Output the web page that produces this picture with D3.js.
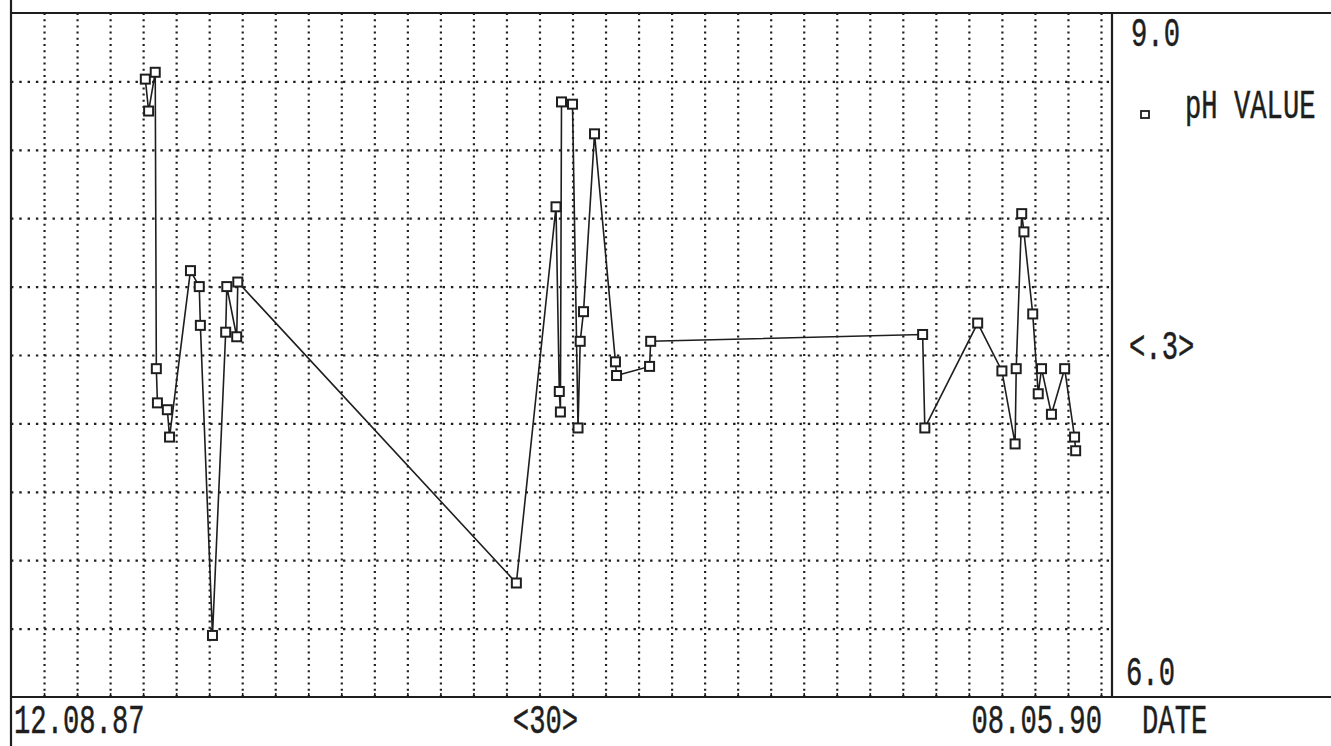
<!DOCTYPE html>
<html>
<head>
<meta charset="utf-8">
<script src="https://cdn.jsdelivr.net/npm/d3@7"></script>
<style>
  html, body { margin: 0; padding: 0; background: #fff; overflow: hidden; }
  svg { display: block; }
  .lbl { font-family: "Liberation Mono", "DejaVu Sans Mono", monospace; fill: #1e1e1e; stroke: #1e1e1e; stroke-width: 0.5px; }
</style>
</head>
<body>
<svg id="chart" width="1331" height="746"></svg>
<script>
// pH readings by sampling date
const sampleDates = [
  "1987-12-12", "1987-12-15", "1987-12-21", "1987-12-22", "1987-12-23",
  "1988-01-01", "1988-01-03", "1988-01-22", "1988-01-30", "1988-01-31",
  "1988-02-11", "1988-02-23", "1988-02-24", "1988-03-04", "1988-03-05",
  "1988-11-13", "1988-12-19", "1988-12-22", "1988-12-23", "1988-12-24",
  "1989-01-03", "1989-01-08", "1989-01-10", "1989-01-13", "1989-01-23",
  "1989-02-11", "1989-02-12", "1989-03-14", "1989-03-15", "1989-11-17",
  "1989-11-19", "1990-01-06", "1990-01-28", "1990-02-09", "1990-02-10",
  "1990-02-15", "1990-02-17", "1990-02-25", "1990-03-02", "1990-03-05",
  "1990-03-14", "1990-03-26", "1990-04-04", "1990-04-05"
];
const phValues = [
  8.71, 8.57, 8.74, 7.44, 7.29,
  7.26, 7.14, 7.87, 7.80, 7.63,
  6.27, 7.60, 7.80, 7.58, 7.82,
  6.50, 8.15, 7.34, 7.25, 8.61,
  8.60, 7.18, 7.56, 7.69, 8.47,
  7.47, 7.41, 7.45, 7.56, 7.59,
  7.18, 7.64, 7.43, 7.11, 7.44,
  8.12, 8.04, 7.68, 7.33, 7.44,
  7.24, 7.44, 7.14, 7.08
];

// axis range, grid steps and printed labels
const dateRange = ["1987-08-12", "1990-05-08"];
const phRange = [6.0, 9.0];
const dayStep = 30;
const phStep = 0.3;
const xEndLabels = ["12.08.87", "08.05.90"];
const yEndLabels = ["9.0", "6.0"];
const xStepLabel = "<30>";
const yStepLabel = "<.3>";
const xTitle = "DATE";
const seriesName = "pH VALUE";

(function draw() {
  const W = 1331, H = 746;
  const pL = 11, pR = 1112, pT = 13, pB = 697;
  const ink = "#1e1e1e";

  const parse = d3.utcParse("%Y-%m-%d");
  const start = parse(dateRange[0]), end = parse(dateRange[1]);

  const x = d3.scaleUtc().domain([start, end]).range([pL, pR]);
  const y = d3.scaleLinear().domain(phRange).range([pB, pT]);

  const svg = d3.select("#chart");
  svg.append("rect").attr("width", W).attr("height", H).attr("fill", "#fff");

  // dotted grid, one line per 30 days and per 0.3 pH
  const totalDays = d3.utcDay.count(start, end);
  const gridDates = d3.range(dayStep, totalDays, dayStep).map(d => d3.utcDay.offset(start, d));
  const gridPh = d3.range(1, Math.round((phRange[1] - phRange[0]) / phStep))
    .map(k => +(phRange[0] + k * phStep).toFixed(2));

  const gx = svg.append("g")
    .attr("transform", `translate(0,${pB})`)
    .call(d3.axisBottom(x).tickValues(gridDates).tickSize(-(pB - pT)).tickFormat(""));
  gx.select(".domain").remove();
  gx.selectAll(".tick line")
    .attr("stroke", ink).attr("stroke-width", 2.2)
    .attr("stroke-dasharray", "2,4.2");

  const gy = svg.append("g")
    .attr("transform", `translate(${pL},0)`)
    .call(d3.axisLeft(y).tickValues(gridPh).tickSize(-(pR - pL)).tickFormat(""));
  gy.select(".domain").remove();
  gy.selectAll(".tick line")
    .attr("stroke", ink).attr("stroke-width", 2.2)
    .attr("stroke-dasharray", "2.4,5.9");

  // small tick marks on the date axis
  const gt = svg.append("g")
    .attr("transform", `translate(0,${pB})`)
    .call(d3.axisBottom(x).tickValues(gridDates).tickSize(-4).tickFormat(""));
  gt.select(".domain").remove();
  gt.selectAll(".tick line").attr("stroke", ink).attr("stroke-width", 1.6);

  // frame
  const frame = svg.append("g").attr("stroke", ink).attr("stroke-width", 2.2).attr("fill", "none");
  frame.append("line").attr("x1", pL).attr("x2", W).attr("y1", pT).attr("y2", pT);
  frame.append("line").attr("x1", pL).attr("x2", W).attr("y1", pB).attr("y2", pB);
  frame.append("line").attr("x1", pL).attr("x2", pL).attr("y1", 0).attr("y2", H);
  frame.append("line").attr("x1", pR).attr("x2", pR).attr("y1", pT).attr("y2", pB);

  // series
  const data = sampleDates.map((d, i) => ({ date: parse(d), ph: phValues[i] }));
  const line = d3.line().x(d => x(d.date)).y(d => y(d.ph));
  svg.append("path").datum(data)
    .attr("d", line)
    .attr("fill", "none").attr("stroke", ink).attr("stroke-width", 1.6);

  const m = 9;
  svg.append("g").selectAll("rect").data(data).join("rect")
    .attr("x", d => x(d.date) - m / 2).attr("y", d => y(d.ph) - m / 2)
    .attr("width", m).attr("height", m)
    .attr("fill", "#fff").attr("stroke", ink).attr("stroke-width", 2);

  // printed labels: narrow tall printer type
  const fs = 40, sx = 0.68;
  function label(txt, px, py, anchor) {
    svg.append("text").attr("class", "lbl")
      .attr("font-size", fs)
      .attr("text-anchor", anchor || "start")
      .attr("transform", `translate(${px},${py}) scale(${sx},1)`)
      .text(txt);
  }

  label(xEndLabels[0], x(start) + 3, 733);
  label(xEndLabels[1], x(end) - 10, 733, "end");
  label(xStepLabel, (pL + pR) / 2 - 16, 733, "middle");
  label(xTitle, pR + 30, 733);

  label(yEndLabels[0], pR + 19, y(phRange[1]) + 33);
  label(yEndLabels[1], pR + 14, y(phRange[0]) - 12);
  label(yStepLabel, pR + 17, y((phRange[0] + phRange[1]) / 2) + 4);

  // legend
  svg.append("rect")
    .attr("x", pR + 29).attr("y", 111).attr("width", 8).attr("height", 7)
    .attr("fill", "#fff").attr("stroke", ink).attr("stroke-width", 1.8);
  label(seriesName, pR + 73, 118);
})();
</script>
</body>
</html>
